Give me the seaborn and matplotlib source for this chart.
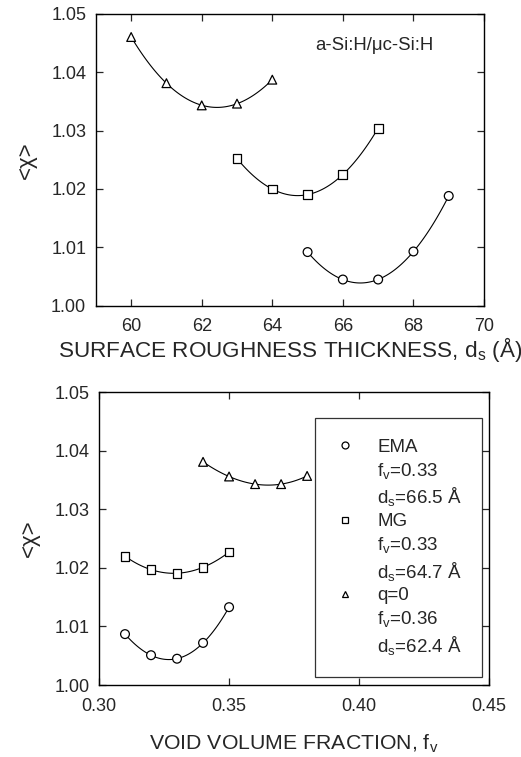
import numpy as np
import pandas as pd
import matplotlib
matplotlib.use("Agg")
import matplotlib.pyplot as plt
from matplotlib.lines import Line2D
import seaborn as sns

# top panel: chi vs surface roughness thickness
ds_q0 = [60, 61, 62, 63, 64]
chi_ds_q0 = [1.0460, 1.0381, 1.0343, 1.0346, 1.0387]
ds_mg = [63, 64, 65, 66, 67]
chi_ds_mg = [1.0252, 1.0200, 1.0190, 1.0225, 1.0304]
ds_ema = [65, 66, 67, 68, 69]
chi_ds_ema = [1.0092, 1.0045, 1.0045, 1.0093, 1.0188]

# bottom panel: chi vs void volume fraction
fv_ema = [0.31, 0.32, 0.33, 0.34, 0.35]
chi_fv_ema = [1.0087, 1.0051, 1.0045, 1.0072, 1.0133]
fv_mg = [0.31, 0.32, 0.33, 0.34, 0.35]
chi_fv_mg = [1.0220, 1.0197, 1.0191, 1.0201, 1.0227]
fv_q0 = [0.34, 0.35, 0.36, 0.37, 0.38]
chi_fv_q0 = [1.0381, 1.0356, 1.0343, 1.0343, 1.0357]

models = ["EMA", "MG", "q=0"]
best_fv = ["0.33", "0.33", "0.36"]
best_ds = ["66.5", "64.7", "62.4"]
markers = {"EMA": "o", "MG": "s", "q=0": "^"}

sns.set_style("ticks")
plt.rcParams["font.family"] = ["Liberation Sans", "DejaVu Sans"]
plt.rcParams["mathtext.fontset"] = "custom"
plt.rcParams["mathtext.rm"] = "Liberation Sans"
plt.rcParams["mathtext.it"] = "Liberation Sans:italic"
plt.rcParams["axes.edgecolor"] = "black"
plt.rcParams["axes.linewidth"] = 1.0


def make_df(groups):
    rows = []
    for name, xs, ys in groups:
        for x, y in zip(xs, ys):
            rows.append({"model": name, "x": x, "chi": y})
    return pd.DataFrame(rows)


def fit_curves(groups, deg=3):
    rows = []
    for name, xs, ys in groups:
        c = np.polyfit(xs, ys, deg)
        xf = np.linspace(min(xs), max(xs), 100)
        for x, y in zip(xf, np.polyval(c, xf)):
            rows.append({"model": name, "x": x, "chi": y})
    return pd.DataFrame(rows)


def draw(ax, groups, msize=40):
    pts = make_df(groups)
    fit = fit_curves(groups)
    sns.lineplot(data=fit, x="x", y="chi", units="model", estimator=None,
                 color="black", lw=0.8, ax=ax, legend=False)
    sns.scatterplot(data=pts, x="x", y="chi", style="model", markers=markers,
                    s=msize, facecolor="white", edgecolor="black", linewidth=0.9,
                    ax=ax, legend=False, zorder=3)
    ax.tick_params(direction="in", top=True, right=True, length=5, labelsize=13,
                   width=0.9)
    ax.tick_params(axis="x", pad=9)
    ax.tick_params(axis="y", pad=7)
    ax.set_ylim(1.0, 1.05)
    ax.set_yticks([1.00, 1.01, 1.02, 1.03, 1.04, 1.05])
    ax.set_yticklabels(["1.00", "1.01", "1.02", "1.03", "1.04", "1.05"])
    ax.set_ylabel("<χ>", fontsize=16, labelpad=10)


fig = plt.figure(figsize=(5.21, 7.57), dpi=100)
ax1 = fig.add_axes([0.184, 0.596, 0.745, 0.386])
ax2 = fig.add_axes([0.190, 0.095, 0.749, 0.387])

draw(ax1, [("q=0", ds_q0, chi_ds_q0), ("MG", ds_mg, chi_ds_mg), ("EMA", ds_ema, chi_ds_ema)])
ax1.set_xlim(59, 70)
ax1.set_xticks([60, 62, 64, 66, 68, 70])
ax1.set_xlabel("SURFACE ROUGHNESS THICKNESS, d$_\\mathregular{s}$ (Å)", fontsize=16.2, labelpad=0)
ax1.text(0.564, 0.89, "a-Si:H/μc-Si:H", transform=ax1.transAxes, fontsize=13.4,
         va="center", ha="left")

draw(ax2, [("EMA", fv_ema, chi_fv_ema), ("MG", fv_mg, chi_fv_mg), ("q=0", fv_q0, chi_fv_q0)])
ax2.set_xlim(0.30, 0.45)
ax2.set_xticks([0.30, 0.35, 0.40, 0.45])
ax2.set_xticklabels(["0.30", "0.35", "0.40", "0.45"])
ax2.set_xlabel("VOID VOLUME FRACTION, f$_\\mathregular{v}$", fontsize=15.3, labelpad=13)

handles, labels = [], []
blank = Line2D([], [], linestyle="none", marker=None)
for m, f, d in zip(models, best_fv, best_ds):
    handles.append(Line2D([], [], linestyle="none", marker=markers[m], markersize=5,
                          markerfacecolor="white", markeredgecolor="black",
                          markeredgewidth=0.9))
    labels.append(m)
    handles += [blank, blank]
    labels += ["f$_\\mathregular{v}$=" + f, "d$_\\mathregular{s}$=" + d + " Å"]

leg = ax2.legend(handles, labels, loc="upper left", bbox_to_anchor=(0.554, 0.911),
                 fontsize=13.5, frameon=True, fancybox=False, edgecolor="black",
                 borderpad=1.1, labelspacing=0.25, handletextpad=1.2,
                 handlelength=1.0, borderaxespad=0)
leg.get_frame().set_linewidth(0.9)

fig.savefig("out.png", dpi=100)
